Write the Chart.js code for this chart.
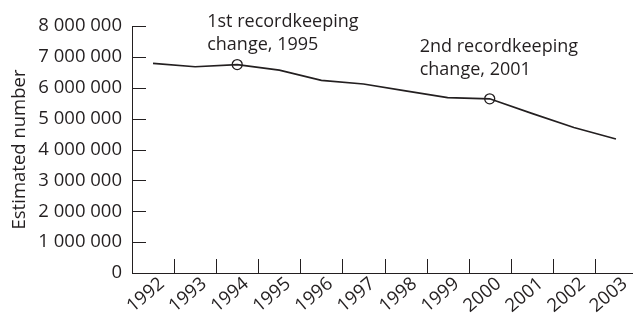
<!DOCTYPE html>
<html><head><meta charset="utf-8">
<script src="https://cdn.jsdelivr.net/npm/chart.js@4/dist/chart.umd.min.js"></script>
<style>
html,body{margin:0;padding:0;background:#fff;overflow:hidden;width:633px;height:316px}
#wrap{position:relative;width:637px;height:316px}
</style></head><body>
<div id="wrap"><canvas id="c"></canvas></div>
<script>
const years = ['1992','1993','1994','1995','1996','1997','1998','1999','2000','2001','2002','2003'];
const estimatedNumber = [6790000, 6680000, 6750000, 6570000, 6240000, 6120000, 5900000, 5680000, 5640000, 5170000, 4710000, 4340000];
const yTickLabels = ['0','1 000 000','2 000 000','3 000 000','4 000 000','5 000 000','6 000 000','7 000 000','8 000 000'];
const markerIndices = [2, 8];
const annotationTexts = [
  ['1st recordkeeping', 'change, 1995'],
  ['2nd recordkeeping', 'change, 2001']
];

const INK = '#231f20';
const FONT = '"Open Sans", Lato, sans-serif';

const annotationLayout = [
  {dx: -30, dy: -38},
  {dx: -70, dy: -47}
];

const tickPlugin = {
  id: 'ticksInside',
  afterDraw(chart) {
    const ctx = chart.ctx;
    const xs = chart.scales.x, ys = chart.scales.y;
    const ca = chart.chartArea;
    ctx.save();
    ctx.strokeStyle = INK;
    ctx.lineWidth = 1;
    ys.ticks.forEach(t => {
      const y = Math.round(ys.getPixelForValue(t.value)) + 0.5;
      ctx.beginPath(); ctx.moveTo(ca.left, y); ctx.lineTo(ca.left + 14, y); ctx.stroke();
    });
    for (let i = 0; i < years.length - 1; i++) {
      const x = Math.round(xs.getPixelForValue(i + 0.5)) + 0.5;
      ctx.beginPath(); ctx.moveTo(x, ca.bottom); ctx.lineTo(x, ca.bottom - 14); ctx.stroke();
    }
    ctx.fillStyle = INK;
    ctx.font = '18px ' + FONT;
    ctx.textAlign = 'left';
    ctx.textBaseline = 'alphabetic';
    markerIndices.forEach((idx, k) => {
      const px = xs.getPixelForValue(idx);
      const py = ys.getPixelForValue(estimatedNumber[idx]);
      const L = annotationLayout[k];
      annotationTexts[k].forEach((line, j) => {
        ctx.fillText(line, px + L.dx, py + L.dy + j * 23.5);
      });
    });
    ctx.restore();
  }
};

new Chart(document.getElementById('c'), {
  type: 'line',
  data: {
    labels: years,
    datasets: [{
      data: estimatedNumber,
      borderColor: INK,
      borderWidth: 1.6,
      tension: 0,
      fill: false,
      pointRadius: estimatedNumber.map((v, i) => markerIndices.includes(i) ? 5 : 0),
      pointBorderColor: INK,
      pointBorderWidth: 1.3,
      pointBackgroundColor: 'rgba(0,0,0,0)',
      pointHoverRadius: 0
    }]
  },
  options: {
    responsive: true,
    maintainAspectRatio: false,
    animation: false,
    events: [],
    layout: { padding: { top: 26, right: 0, left: 0, bottom: 0 } },
    plugins: { legend: { display: false }, tooltip: { enabled: false } },
    scales: {
      x: {
        type: 'category',
        offset: true,
        grid: { display: false, drawTicks: false, tickLength: 0 },
        border: { display: true, color: INK, width: 1 },
        ticks: {
          color: INK,
          font: { family: FONT, size: 18.5 },
          minRotation: 40, maxRotation: 40,
          labelOffset: 9,
          padding: 0,
          autoSkip: false
        },
        afterFit(s) { s.height = 43; }
      },
      y: {
        min: 0, max: 8000000,
        grid: { display: false, drawTicks: false, tickLength: 0 },
        border: { display: true, color: INK, width: 1 },
        ticks: {
          stepSize: 1000000,
          color: INK,
          font: { family: FONT, size: 18.5 },
          padding: 10,
          callback: (v, i) => yTickLabels[i]
        },
        title: {
          display: true,
          text: 'Estimated number',
          color: INK,
          font: { family: FONT, size: 18.5 },
          padding: { top: 9, bottom: 4 }
        },
        afterFit(s) { s.width = 132; }
      }
    }
  },
  plugins: [tickPlugin]
});
</script>
</body></html>
